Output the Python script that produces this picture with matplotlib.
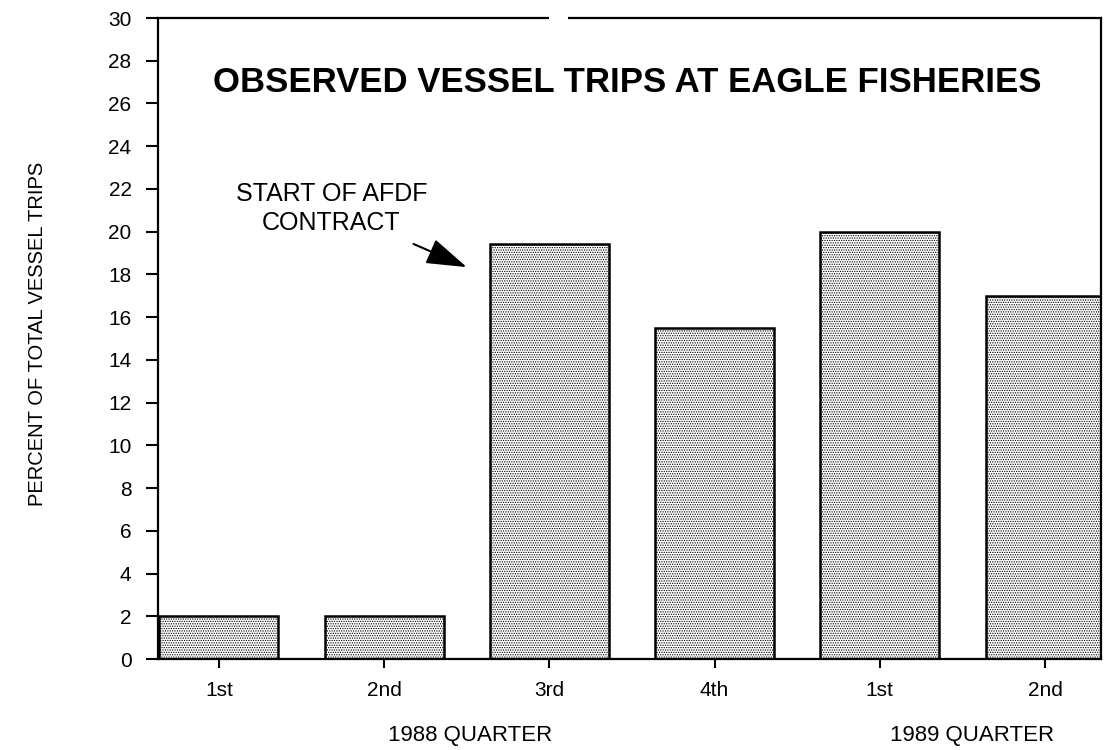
import matplotlib
matplotlib.use("Agg")
import matplotlib.pyplot as plt
from matplotlib.patches import Rectangle

# Dados ----------------------------->>>>>
quarters = ['1st', '2nd', '3rd', '4th', '1st', '2nd']
percent_trips = [2, 2, 19.4, 15.5, 20, 17]
y_ticks = list(range(0, 31, 2))
year_labels = ['1988 QUARTER', '1989 QUARTER']
title = 'OBSERVED VESSEL TRIPS AT EAGLE FISHERIES'
note = 'START OF AFDF\nCONTRACT'

plt.rcParams['font.family'] = ['Liberation Sans', 'DejaVu Sans']
plt.rcParams['hatch.linewidth'] = 0.6

fig = plt.figure(figsize=(11.04, 7.5), dpi=100)
ax = fig.add_axes([0.1431, 0.1213, 0.8542, 0.8547])

# Barras pontilhadas
x = list(range(len(quarters)))
ax.bar(x, percent_trips, width=0.72, color='white', edgecolor='black',
       linewidth=1.8, hatch='.......', zorder=2)

ax.set_xlim(-0.369, 5.339)
ax.set_ylim(0, 30)
ax.set_yticks(y_ticks)
ax.set_xticks(x)
ax.set_xticklabels(quarters)

for s in ax.spines.values():
    s.set_linewidth(1.6)

ax.tick_params(axis='y', direction='out', length=9, width=1.5, pad=10, labelsize=15)
ax.tick_params(axis='x', direction='out', length=6.5, width=1.5, pad=9, labelsize=15)

# pequena falha na linha superior, como no original
ax.add_patch(Rectangle((2.0, 0.985), 0.11, 0.03, transform=ax.get_xaxis_transform(),
                       facecolor='white', edgecolor='none', clip_on=False, zorder=5))

# Titulo ajustado a largura do original
t = ax.text(0.498, 0.9, title, transform=ax.transAxes, ha='center', va='center',
            fontsize=28, fontweight='bold')
fig.canvas.draw()
w = t.get_window_extent().width
t.set_fontsize(28 * 827 / w)

# Anotacao
ax.annotate(note, xy=(1.50, 18.34), xytext=(0.68, 21.1), ha='center', va='center',
            fontsize=18, linespacing=1.25,
            arrowprops=dict(arrowstyle='-|>,head_length=1.4,head_width=0.45',
                            color='black', lw=1.5, shrinkA=12, shrinkB=0))

# Rotulos dos eixos
fig.text(38 / 1104, 1 - 334 / 750, 'PERCENT OF TOTAL VESSEL TRIPS', rotation=90,
         ha='center', va='center', fontsize=14.5)
fig.text(470 / 1104, 1 - 735 / 750, year_labels[0], ha='center', va='center', fontsize=16)
fig.text(972 / 1104, 1 - 735 / 750, year_labels[1], ha='center', va='center', fontsize=16)

fig.savefig('out.png', dpi=100)
